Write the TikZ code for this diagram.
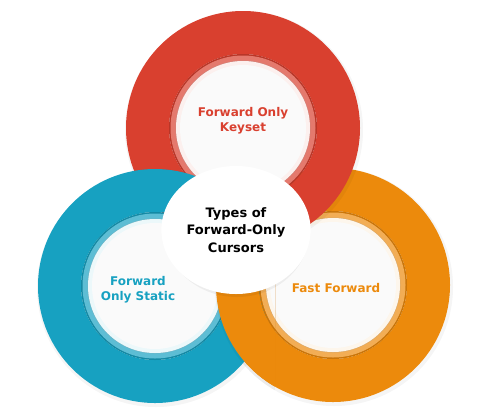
\documentclass[tikz,border=0pt]{standalone}
\usepackage{fontspec}
\setmainfont{DejaVu Sans}
\usetikzlibrary{shapes.geometric}
\definecolor{keysetred}{HTML}{D9402F}
\definecolor{staticteal}{HTML}{17A1C1}
\definecolor{fastorange}{HTML}{EC8A0C}
\newcommand\drawshadow[1]{%
  \fill[black, opacity=.04] ([shift={(1,2)}]#1) circle (119pt);
}
\newcommand\drawring[2]{%
  \fill[#2, even odd rule] (#1) circle (117pt) (#1) circle (74pt);
  \fill[#2!85!black] (#1) circle (74pt);
  \fill[#2!70!white] (#1) circle (72.5pt);
  \fill[#2!80!black!60!white] (#1) circle (67.5pt);
  \fill[#2!8!white] (#1) circle (67pt);
  \fill[white!98!black] (#1) circle (63pt);
}
\begin{document}
\begin{tikzpicture}
        [x=1pt, y=-1pt,
        every node/.style={align=center, font=\bfseries\fontsize{12}{15}\selectfont},
        hub/.style={ellipse, fill=white, minimum width=142pt, minimum height=128pt,
          font=\bfseries\fontsize{13}{17.5}\selectfont},
        ]
        \useasboundingbox (0,0) rectangle (500,413);
        \coordinate (redc) at (243,128);
        \coordinate (tealc) at (155,286);
        \coordinate (orangec) at (333,285);
        % rings, interlocked
        \drawshadow{orangec}
        \drawring{orangec}{fastorange}
        \drawshadow{redc}
        \drawring{redc}{keysetred}
        \drawshadow{tealc}
        \drawring{tealc}{staticteal}
        \begin{scope}
          \clip (200,255) rectangle (275,413);
          \drawshadow{orangec}
          \drawring{orangec}{fastorange}
        \end{scope}
        % labels
        \node[text=keysetred] (keyset) at (243,121) {Forward Only\\Keyset};
        \node[text=staticteal] (static) at (138,290) {Forward\\Only Static};
        \node[text=fastorange] (fast) at (336,288) {Fast Forward};
        \fill[black, opacity=.05] (237,232) ellipse [x radius=72pt, y radius=65pt];
        \node[hub] (cursors) at (236,230) {Types of\\Forward-Only\\Cursors};
\end{tikzpicture}
\end{document}
